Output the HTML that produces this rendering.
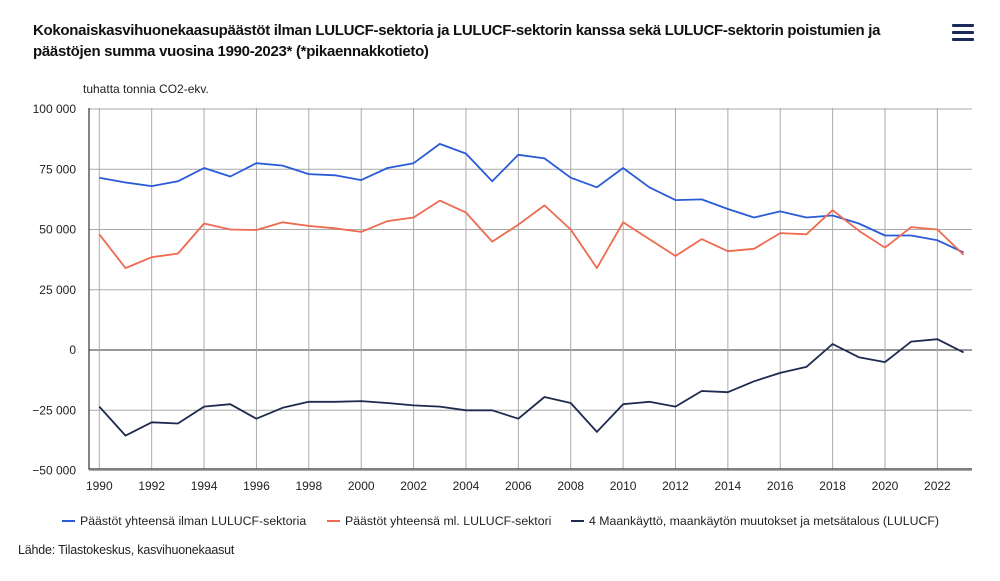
<!DOCTYPE html>
<html><head><meta charset="utf-8">
<style>
html,body{margin:0;padding:0;background:#fff;width:1000px;height:581px;overflow:hidden;font-family:"Liberation Sans",sans-serif;}
.title{position:absolute;left:33px;top:20px;width:900px;font-size:15px;font-weight:bold;color:#111;line-height:21px;letter-spacing:-0.3px;}
.menu{position:absolute;left:952px;top:24px;width:22px;height:18px;}
.menu div{height:3px;background:#1a2a5a;margin-bottom:4px;border-radius:1px;}
.src{position:absolute;left:18px;top:543px;font-size:12.5px;color:#222;letter-spacing:-0.2px;}
svg text{font-family:"Liberation Sans",sans-serif;}
</style></head><body>
<div class="title">Kokonaiskasvihuonekaasupäästöt ilman LULUCF-sektoria ja LULUCF-sektorin kanssa sekä LULUCF-sektorin poistumien ja päästöjen summa vuosina 1990-2023* (*pikaennakkotieto)</div>
<div class="menu"><div></div><div></div><div></div></div>
<svg id="chart" width="1000" height="581" style="position:absolute;left:0;top:0"></svg>
<div class="src">Lähde: Tilastokeskus, kasvihuonekaasut</div>
<script>
const years=[];for(let y=1990;y<=2023;y++)years.push(y);
const totalWithoutLulucf=[71.5,69.5,68,70,75.5,72,77.5,76.5,73,72.5,70.5,75.5,77.5,85.5,81.5,70,81,79.5,71.5,67.5,75.5,67.5,62.2,62.5,58.5,55,57.5,55,55.8,52.5,47.5,47.5,45.5,40.5];
const totalWithLulucf=[48,34,38.5,40,52.5,50,49.8,53,51.5,50.5,49,53.5,55,62,57,45,52,60,50,34,53,46,39,46,41,42,48.5,48,58,49.5,42.5,51,50,39.5];
const lulucf=[-23.5,-35.5,-30,-30.5,-23.5,-22.5,-28.5,-24,-21.5,-21.5,-21.2,-22,-23,-23.5,-25,-25,-28.5,-19.5,-22,-34,-22.5,-21.5,-23.5,-17,-17.5,-13,-9.5,-7,2.5,-3,-5,3.5,4.5,-1];
const yTicks=[100000,75000,50000,25000,0,-25000,-50000];
const yTickLabels=["100 000","75 000","50 000","25 000","0","−25 000","−50 000"];
const xTickYears=[1990,1992,1994,1996,1998,2000,2002,2004,2006,2008,2010,2012,2014,2016,2018,2020,2022];
const seriesNames=["Päästöt yhteensä ilman LULUCF-sektoria","Päästöt yhteensä ml. LULUCF-sektori","4 Maankäyttö, maankäytön muutokset ja metsätalous (LULUCF)"];
const colors=["#2a5bd7","#ee6a50","#1d2b4f"];

const NS="http://www.w3.org/2000/svg";
const svg=document.getElementById('chart');
const L=89,R=972,T=108,B=469;
const x=yr=>99.3+(yr-1990)*26.19;
const y=v=>350-v*(241/100000);
function el(tag,attrs,parent){const e=document.createElementNS(NS,tag);for(const k in attrs)e.setAttribute(k,attrs[k]);(parent||svg).appendChild(e);return e;}

const unit=el('text',{x:83,y:93,'font-size':12,fill:'#222'});unit.textContent='tuhatta tonnia CO2-ekv.';



yTicks.forEach((t,i)=>{
  const g=el('line',{x1:L,x2:R,y1:y(t),y2:y(t),stroke:t===0?'#333':'#aaa','stroke-width':1});
  
  
  const lb=el('text',{x:76,y:y(t)+4,'font-size':12,'text-anchor':'end',fill:'#222'});
  lb.textContent=yTickLabels[i];
  
  
});
xTickYears.forEach(yr=>{
  const g=el('line',{x1:x(yr),x2:x(yr),y1:T,y2:B,stroke:'#aaa','stroke-width':1});
  
  
  const lb=el('text',{x:x(yr),y:490,'font-size':12,'text-anchor':'middle',fill:'#222'});
  lb.textContent=yr;
  
  
});
const ax=el('path',{d:`M${L} ${T}V${B}H${R}`,stroke:'#333',fill:'none','stroke-width':1.2});



[totalWithoutLulucf,totalWithLulucf,lulucf].forEach((s,i)=>{
  const d=s.map((v,j)=>(j?'L':'M')+x(years[j]).toFixed(1)+' '+y(v*1000).toFixed(1)).join('');
  const p=el('path',{d:d,stroke:colors[i],fill:'none','stroke-width':1.8,'stroke-linejoin':'round'});
  
  
});
const legX=[62,327,571];
seriesNames.forEach((n,i)=>{
  const g=el('g',{});
  
  
  el('line',{x1:legX[i],x2:legX[i]+13,y1:521,y2:521,stroke:colors[i],'stroke-width':2},g);
  const t=el('text',{x:legX[i]+18,y:525,'font-size':12.3,fill:'#222'},g);
  t.textContent=n;
});
</script>
</body></html>
